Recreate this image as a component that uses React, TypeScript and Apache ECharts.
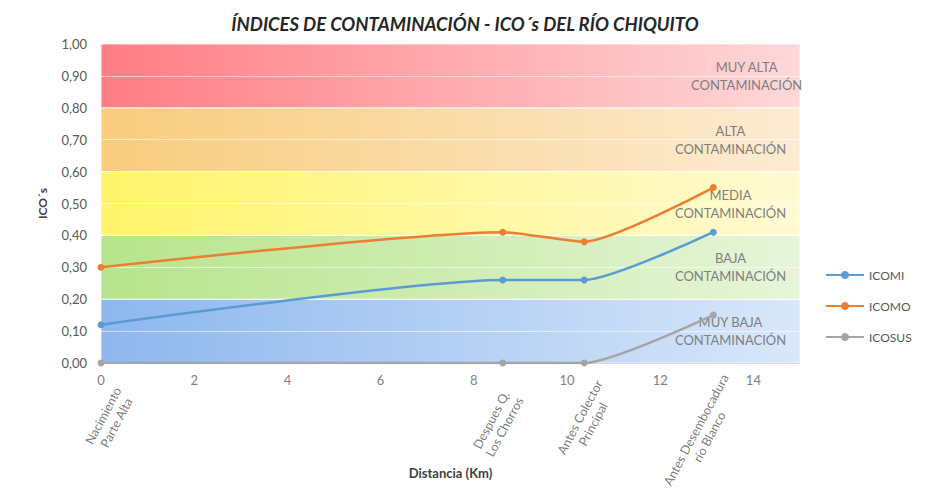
import React, { useEffect, useRef } from "react";
import * as echarts from "echarts";

const distances = [0, 8.62, 10.37, 13.14];
const sites = [
  "Nacimiento\nParte Alta",
  "Despues Q.\nLos Chorros",
  "Antes Colector\nPrincipal",
  "Antes Desembocadura\nrío Blanco",
];
const icomi = [0.12, 0.26, 0.26, 0.41];
const icomo = [0.3, 0.41, 0.38, 0.55];
const icosus = [0, 0, 0, 0.15];
const seriesNames = ["ICOMI", "ICOMO", "ICOSUS"];
const bandLimits = [0, 0.2, 0.4, 0.6, 0.8, 1.0];
const bandNames = [
  "MUY BAJA\nCONTAMINACIÓN",
  "BAJA\nCONTAMINACIÓN",
  "MEDIA\nCONTAMINACIÓN",
  "ALTA\nCONTAMINACIÓN",
  "MUY ALTA\nCONTAMINACIÓN",
];
const gridValues = [0.1, 0.3, 0.5, 0.7, 0.9];

// styling (colors / label placements)
const bandColors = [
  ["#8db7ee", "#d9e7fa"],
  ["#b7e48b", "#e6f5d9"],
  ["#fff46a", "#fffbd2"],
  ["#f8cc7d", "#fdebd2"],
  ["#ff7d84", "#fed8d9"],
];
const bandLabelX = ["90%", "90%", "90%", "90%", "92.3%"];
const siteLabelPos = [
  [24, 29],
  [11, 32],
  [22, 22],
  [19, 16],
];
const lineColors = ["#5b9bd5", "#ed7d31", "#a5a5a5"];

const FONT = "Lato, 'Open Sans', sans-serif";

export default function App() {
  const ref = useRef<HTMLDivElement>(null);
  useEffect(() => {
    if (!ref.current) return;
    const chart = echarts.init(ref.current, undefined, { renderer: "svg" });
    const values = [icomi, icomo, icosus];
    const lineSeries: any[] = values.map((vals, i) => ({
      name: seriesNames[i],
      type: "line",
      smooth: 0.2,
      symbol: "circle",
      symbolSize: 7,
      z: 5,
      lineStyle: { color: lineColors[i], width: 2.5 },
      itemStyle: { color: lineColors[i] },
      data: distances.map((d, j) => [d, vals[j]]),
    }));
    const bandSeries = {
      name: "bands",
      type: "line",
      data: [],
      silent: true,
      z: 1,
      markArea: {
        silent: true,
        data: bandNames.map((name, i) => [
          {
            yAxis: bandLimits[i],
            name,
            itemStyle: {
              color: new echarts.graphic.LinearGradient(0, 0, 1, 0, [
                { offset: 0, color: bandColors[i][0] },
                { offset: 1, color: bandColors[i][1] },
              ]),
              borderColor: "rgba(255,255,255,0.8)",
              borderWidth: 1,
            },
            label: {
              show: true,
              position: [bandLabelX[i], "50%"],
              align: "center",
              verticalAlign: "middle",
              color: "#7f7f7f",
              fontSize: 13,
              lineHeight: 18,
              fontFamily: FONT,
            },
          },
          { yAxis: bandLimits[i + 1] },
        ]),
      },
      markLine: {
        silent: true,
        symbol: "none",
        label: { show: false },
        lineStyle: { color: "rgba(255,255,255,0.55)", width: 1, type: "solid" },
        data: gridValues.map((v) => ({ yAxis: v })),
      },
    };
    const siteSeries = {
      name: "sites",
      type: "scatter",
      symbolSize: 1,
      silent: true,
      itemStyle: { color: "transparent" },
      data: distances.map((d, i) => ({
        value: [d, 0],
        label: {
          show: true,
          formatter: sites[i]
            .split("\n")
            .map((s) => `{a|${s}}`)
            .join("\n"),
          position: siteLabelPos[i],
          rotate: 62,
          align: "right",
          verticalAlign: "middle",
          rich: {
            a: {
              align: "center",
              color: "#595959",
              fontSize: 12.5,
              lineHeight: 15,
              fontFamily: FONT,
            },
          },
        },
      })),
    };
    chart.setOption({
      animation: false,
      backgroundColor: "#ffffff",
      textStyle: { fontFamily: FONT },
      title: {
        text: "ÍNDICES DE CONTAMINACIÓN - ICO´s DEL RÍO CHIQUITO",
        left: "center",
        top: 9,
        textStyle: {
          fontSize: 18.5,
          fontWeight: "bold",
          fontStyle: "italic",
          color: "#262626",
          fontFamily: FONT,
        },
      },
      legend: {
        data: seriesNames,
        orient: "vertical",
        left: 820,
        top: 264,
        itemWidth: 38,
        itemHeight: 10,
        itemGap: 19,
        textStyle: { color: "#595959", fontSize: 12, fontFamily: FONT },
      },
      grid: { left: 101, right: 130, top: 44, bottom: 128 },
      xAxis: {
        type: "value",
        min: 0,
        max: 15,
        interval: 2,
        name: "Distancia (Km)",
        nameLocation: "middle",
        nameGap: 103,
        nameTextStyle: { fontWeight: "bold", fontSize: 13, color: "#404040" },
        axisLine: { show: true, lineStyle: { color: "#bfbfbf", width: 1 } },
        axisTick: { show: false },
        splitLine: { show: false },
        axisLabel: {
          showMaxLabel: false,
          color: "#7f7f7f",
          fontSize: 13,
          margin: 10,
        },
      },
      yAxis: {
        type: "value",
        min: 0,
        max: 1,
        interval: 0.1,
        name: "ICO´s",
        nameLocation: "middle",
        nameGap: 53,
        nameRotate: 90,
        nameTextStyle: { fontWeight: "bold", fontSize: 12, color: "#404040" },
        axisLine: { show: false },
        axisTick: { show: false },
        splitLine: { show: false },
        axisLabel: {
          color: "#595959",
          fontSize: 13,
          margin: 14,
          formatter: (v: number) => v.toFixed(2).replace(".", ","),
        },
      },
      series: [bandSeries, ...lineSeries, siteSeries],
    });
    return () => chart.dispose();
  }, []);
  return (
    <div
      ref={ref}
      style={{ position: "fixed", left: 0, top: 0, width: 930, height: 491 }}
    />
  );
}
